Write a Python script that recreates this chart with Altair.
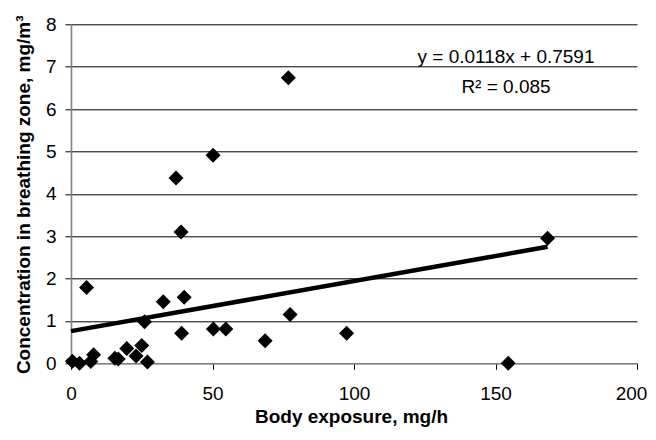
import altair as alt
import pandas as pd

# Data
body_exposure = [0.5, 3.0, 5.5, 7.0, 8.0, 15.5, 16.7, 19.7, 23.0, 25.0, 26.0, 27.0,
                 32.6, 37.1, 38.9, 39.1, 40.0, 50.2, 50.3, 54.7, 68.6, 76.8, 77.4,
                 97.4, 154.5, 168.4]
concentration = [0.05, 0.0, 1.79, 0.04, 0.2, 0.12, 0.1, 0.35, 0.17, 0.42, 0.98, 0.03,
                 1.45, 4.37, 3.1, 0.71, 1.56, 4.91, 0.81, 0.81, 0.53, 6.74, 1.15,
                 0.71, 0.0, 2.95]
trend_x = [0, 168.4]
trend_y = [0.76, 2.75]
x_ticks = [0, 50, 100, 150, 200]
y_ticks = [0, 1, 2, 3, 4, 5, 6, 7, 8]
equation_text = ["y = 0.0118x + 0.7591"]
r2_text = ["R² = 0.085"]

FONT = "Liberation Sans"

pts = pd.DataFrame({"x": body_exposure, "y": concentration})
trend = pd.DataFrame({"x": trend_x, "y": trend_y})

x_enc = alt.X(
    "x:Q",
    scale=alt.Scale(domain=[0, 200], nice=False, zero=False),
    axis=alt.Axis(
        values=x_ticks, grid=False, title="Body exposure, mg/h",
        titleY=59, titleX=280, titleBaseline="alphabetic",
        tickSize=6, labelPadding=15, labelFlush=False,
        labelOffset=alt.condition("datum.value === 200", alt.value(-6), alt.value(0)),
    ),
)
y_enc = alt.Y(
    "y:Q",
    scale=alt.Scale(domain=[0, 8], nice=False, zero=False),
    axis=alt.Axis(
        values=y_ticks, grid=True,
        gridColor=alt.condition("datum.value === 0", alt.value("#808080"), alt.value("#000000")),
        title="Concentration in breathing zone, mg/m³",
        titleX=-42, titleY=170, titleBaseline="alphabetic", titleAngle=270,
        tickSize=6, labelPadding=9, labelFlush=False,
    ),
)

line = alt.Chart(trend).mark_line(color="black", strokeWidth=4.5, strokeCap="butt").encode(
    x=x_enc, y=y_enc
)
points = alt.Chart(pts).mark_point(
    shape="diamond", filled=True, size=225, color="black", opacity=1
).encode(x="x:Q", y="y:Q")

eq = alt.Chart(pd.DataFrame({"t": equation_text})).mark_text(
    font=FONT, fontSize=19, align="center", baseline="alphabetic", color="black"
).encode(x=alt.value(435), y=alt.value(38.4), text="t:N")

r2 = alt.Chart(pd.DataFrame({"t": r2_text})).mark_text(
    font=FONT, fontSize=19, align="center", baseline="alphabetic", color="black"
).encode(x=alt.value(435), y=alt.value(69), text="t:N")

chart = alt.layer(line, points, eq, r2).properties(
    width=566, height=339,
    autosize=alt.AutoSizeParams(type="none"),
    padding={"left": 63, "top": 16.3, "right": 11, "bottom": 64},
).configure_view(stroke=None).configure_axis(
    labelFont=FONT, labelFontSize=19, labelColor="black",
    titleFont=FONT, titleFontSize=19, titleFontWeight="bold", titleColor="black",
    domainColor="#808080", domainWidth=1.6, tickColor="#000000", tickWidth=1,
    gridWidth=1, gridOpacity=1,
)

chart.save("out.html", embed_options={"renderer": "svg", "actions": False})
